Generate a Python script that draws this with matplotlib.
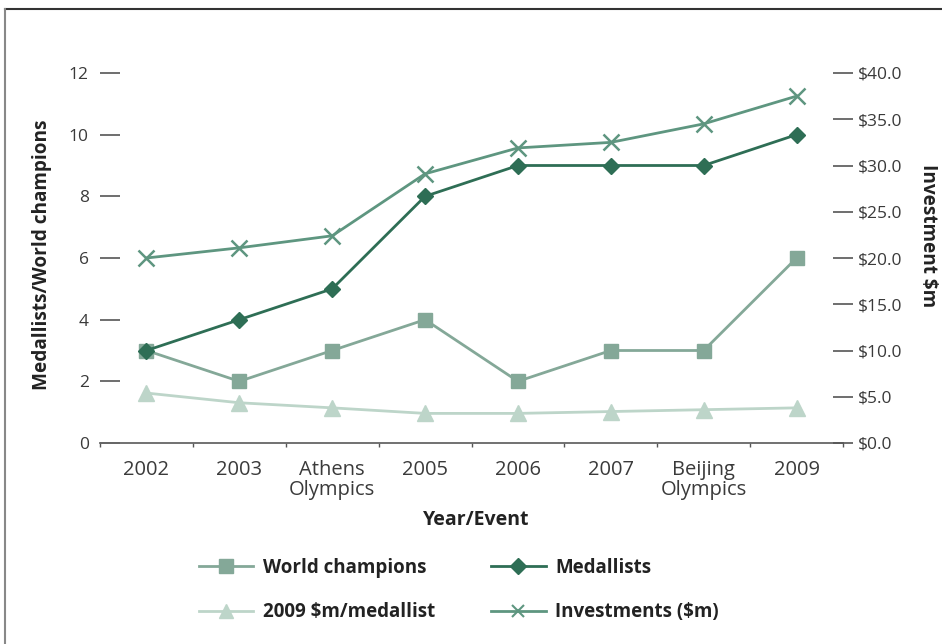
import numpy as np
import matplotlib
matplotlib.use("Agg")
import matplotlib.pyplot as plt
from matplotlib.lines import Line2D

plt.rcParams['font.family'] = ['Open Sans', 'DejaVu Sans']

# data
events = ['2002', '2003', 'Athens\nOlympics', '2005', '2006', '2007', 'Beijing\nOlympics', '2009']
world_champions = [3, 2, 3, 4, 2, 3, 3, 6]
medallists = [3, 4, 5, 8, 9, 9, 9, 10]
cost_per_medallist = [5.4, 4.35, 3.8, 3.2, 3.2, 3.4, 3.6, 3.8]   # 2009 $m/medallist (right axis)
investments = [20.0, 21.1, 22.4, 29.1, 31.9, 32.5, 34.5, 37.5]   # $m (right axis)

left_ticks = [0, 2, 4, 6, 8, 10, 12]
right_ticks = [0, 5, 10, 15, 20, 25, 30, 35, 40]

c_wc = '#84a898'
c_med = '#2e6e55'
c_inv = '#5e9680'
c_cost = '#bdd5c9'
tick_col = '#555555'
text_col = '#3a3a3a'

fig = plt.figure(figsize=(9.42, 6.44), dpi=100)
ax = fig.add_axes([100/942, 201/644, 743/942, 370/644])
ax2 = ax.twinx()

x = np.arange(len(events))

ax.plot(x, world_champions, color=c_wc, lw=2, marker='s', ms=9.5, mec=c_wc, zorder=3)
ax.plot(x, medallists, color=c_med, lw=2, marker='D', ms=8.5, mec=c_med, zorder=4)
ax2.plot(x, cost_per_medallist, color=c_cost, lw=2, marker='^', ms=11, mec=c_cost, zorder=3)
ax2.plot(x, investments, color=c_inv, lw=2, marker='x', ms=12, mew=1.8, zorder=3)

ax.set_xlim(-0.5, len(events) - 0.5)
ax.set_ylim(0, 12)
ax2.set_ylim(0, 40)

# left axis
ax.set_yticks(left_ticks)
ax.tick_params(axis='y', direction='in', length=14.5, width=1.2, color=tick_col,
               pad=8, labelsize=12.5, labelcolor=text_col)
# right axis
ax2.set_yticks(right_ticks)
ax2.set_yticklabels(['$%.1f' % v for v in right_ticks])
ax2.tick_params(axis='y', direction='inout', length=15, width=1.2, color=tick_col,
                pad=3.5, labelsize=12.5, labelcolor=text_col)

# x axis: labels at centres, small ticks at category boundaries
ax.set_xticks(x)
ax.set_xticklabels(events, linespacing=1.05)
ax.set_xticks(np.arange(-0.5, len(events)), minor=True)
ax.tick_params(axis='x', which='major', length=0, pad=12, labelsize=14.5, labelcolor=text_col)
ax.tick_params(axis='x', which='minor', direction='out', length=3, width=1, color=tick_col)

for a in (ax, ax2):
    for s in ('left', 'right', 'top'):
        a.spines[s].set_visible(False)
ax2.spines['bottom'].set_visible(False)
ax.spines['bottom'].set_color('#666666')
ax.spines['bottom'].set_linewidth(1.3)

ax.set_ylabel('Medallists/World champions', fontsize=13.7, fontweight='bold', color='#222222',
              va='center', ha='center')
ax.yaxis.set_label_coords(-0.078, 0.51)
ax2.set_ylabel('Investment $m', fontsize=13.7, fontweight='bold', color='#222222',
               rotation=270, va='center', ha='center')
ax2.yaxis.set_label_coords(1.1144, 0.561)
ax.set_xlabel('Year/Event', fontsize=14, fontweight='bold', color='#222222', va='center')
ax.xaxis.set_label_coords(0.506, -0.208)

handles = [
    Line2D([], [], color=c_wc, lw=2, marker='s', ms=9.5, mec=c_wc),
    Line2D([], [], color=c_cost, lw=2, marker='^', ms=10, mec=c_cost),
    Line2D([], [], color=c_med, lw=2, marker='D', ms=8, mec=c_med),
    Line2D([], [], color=c_inv, lw=2, marker='x', ms=9, mew=1.5),
]
labels = ['World champions', '2009 $m/medallist', 'Medallists', 'Investments ($m)']
leg = fig.legend(handles, labels, loc='upper left', bbox_to_anchor=(199/942, 1 - 558/644),
                 ncol=2, frameon=False, borderpad=0, borderaxespad=0,
                 handlelength=2.9, handletextpad=0.5, columnspacing=3.0, labelspacing=1.3,
                 prop={'size': 13.5, 'weight': 'bold'})
for t in leg.get_texts():
    t.set_color('#222222')

# outer frame (top and left edges visible in the reference)
fig.add_artist(Line2D([5/942, 1], [1 - 9/644, 1 - 9/644], transform=fig.transFigure,
                      color='#333333', lw=1.5))
fig.add_artist(Line2D([5/942, 5/942], [0, 1 - 9/644], transform=fig.transFigure,
                      color='#888888', lw=1.5))

fig.savefig('out.png', dpi=100)
